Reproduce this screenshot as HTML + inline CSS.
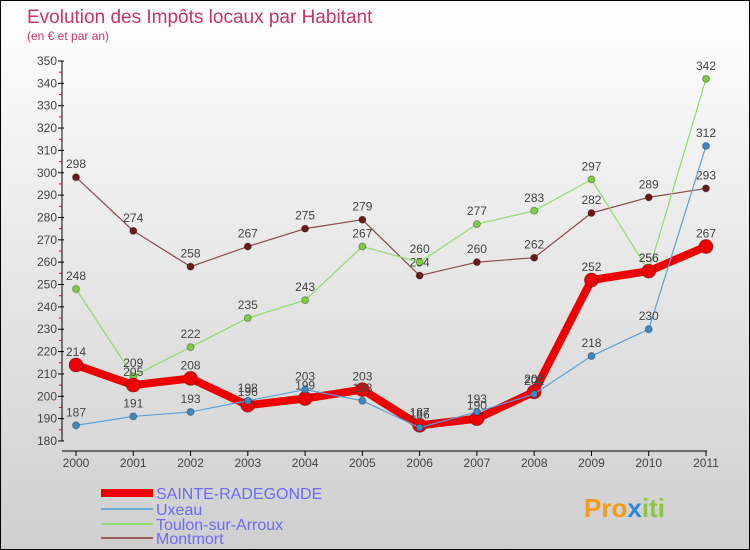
<!DOCTYPE html>
<html><head><meta charset="utf-8"><style>
body{margin:0}
#w{width:748px;height:548px;border:1px solid #000;background:linear-gradient(#fff,#f0f0f0 30%,#cfcfcf);position:relative;font-family:"Liberation Sans",sans-serif;overflow:hidden}
</style></head><body>
<div id="w">
<svg id="s" width="748" height="548" style="position:absolute;left:0;top:0" font-family="Liberation Sans, sans-serif">
<text x="26" y="22" font-size="19" fill="#c8336a">Evolution des Impôts locaux par Habitant</text>
<text x="26" y="39" font-size="12" fill="#c8336a">(en € et par an)</text>
<g id="axes"></g><g id="plot"></g>
<g>
<line x1="100" y1="492" x2="152" y2="492" stroke="#e00" stroke-width="8"/>
<text x="155" y="498" font-size="16" fill="#6b6bf5">SAINTE-RADEGONDE</text>
<line x1="100" y1="508" x2="152" y2="508" stroke="#6aaed8" stroke-width="2"/>
<text x="155" y="514" font-size="16" fill="#6b6bf5">Uxeau</text>
<line x1="100" y1="523" x2="152" y2="523" stroke="#8fdd6a" stroke-width="2"/>
<text x="155" y="529" font-size="16" fill="#6b6bf5">Toulon-sur-Arroux</text>
<line x1="100" y1="537" x2="152" y2="537" stroke="#9a6060" stroke-width="2"/>
<text x="155" y="543" font-size="16" fill="#6b6bf5">Montmort</text>
</g>
<text x="583" y="516" font-size="26" font-weight="bold" fill="#f39a1a">Pro<tspan fill="#2a8ad8">x</tspan><tspan fill="#8cc63f">iti</tspan></text>
</svg></div>
<script>
const years=[2000,2001,2002,2003,2004,2005,2006,2007,2008,2009,2010,2011];
const yTicks=[180,190,200,210,220,230,240,250,260,270,280,290,300,310,320,330,340,350];
const sainteRadegonde=[214,205,208,196,199,203,187,190,202,252,256,267];
const uxeau=[187,191,193,198,203,198,186,193,201,218,230,312];
const toulon=[248,209,222,235,243,267,260,277,283,297,256,342];
const montmort=[298,274,258,267,275,279,254,260,262,282,289,293];
const NS='http://www.w3.org/2000/svg';
const x=i=>75+i*(705-75)/11;
const y=v=>440-(v-180)*(380/170);
function mk(t,a,p){const e=document.createElementNS(NS,t);for(const k in a)e.setAttribute(k,a[k]);p.appendChild(e);return e;}
const ax=document.getElementById('axes'),pl=document.getElementById('plot');
let e=mk('line',{x1:61,y1:y(350),x2:61,y2:y(180),stroke:'#000'},ax);


e=mk('line',{x1:61,y1:450,x2:706,y2:450,stroke:'#000'},ax);


yTicks.forEach((v,i)=>{
 mk('line',{x1:57,y1:y(v),x2:63,y2:y(v),stroke:'#000'},ax);
 if(i<yTicks.length-1)mk('line',{x1:58,y1:y(v+5),x2:61,y2:y(v+5),stroke:'#e00'},ax);
 const t=mk('text',{x:56,y:y(v)+4,'text-anchor':'end','font-size':12,fill:'#444'},ax);
 t.textContent=v;
 
 
});
years.forEach((yr,i)=>{
 mk('line',{x1:x(i),y1:450,x2:x(i),y2:455,stroke:'#000'},ax);
 const t=mk('text',{x:x(i),y:466,'text-anchor':'middle','font-size':12,fill:'#444'},ax);
 t.textContent=yr;
 
 
});
function series(d,col,dot,w,r,name){
 const g=mk('g',{},pl);
 
 
 const p=mk('polyline',{points:d.map((v,i)=>x(i)+','+y(v)).join(' '),fill:'none',stroke:col,'stroke-width':w,'stroke-linejoin':'round'},g);
 
 
 d.forEach((v,i)=>{
  const c=mk('circle',{cx:x(i),cy:y(v),r:r,fill:dot,stroke:'rgba(0,0,0,0.3)','stroke-width':1},g);
  
  
  const t=mk('text',{x:x(i),y:y(v)-9,'text-anchor':'middle','font-size':12,fill:'#444'},g);
  t.textContent=v;
  
  
 });
}
series(montmort,'#8a4a4a','#6a1818',1.2,3.5,'montmort');
series(toulon,'#8fdd6a','#7ccc44',1.2,3.5,'toulon');
series(sainteRadegonde,'#ee0000','#ee0000',8,7,'sainte-radegonde');
series(uxeau,'#5aa0d8','#3a8ac8',1.2,3.5,'uxeau');
</script>
</body></html>
